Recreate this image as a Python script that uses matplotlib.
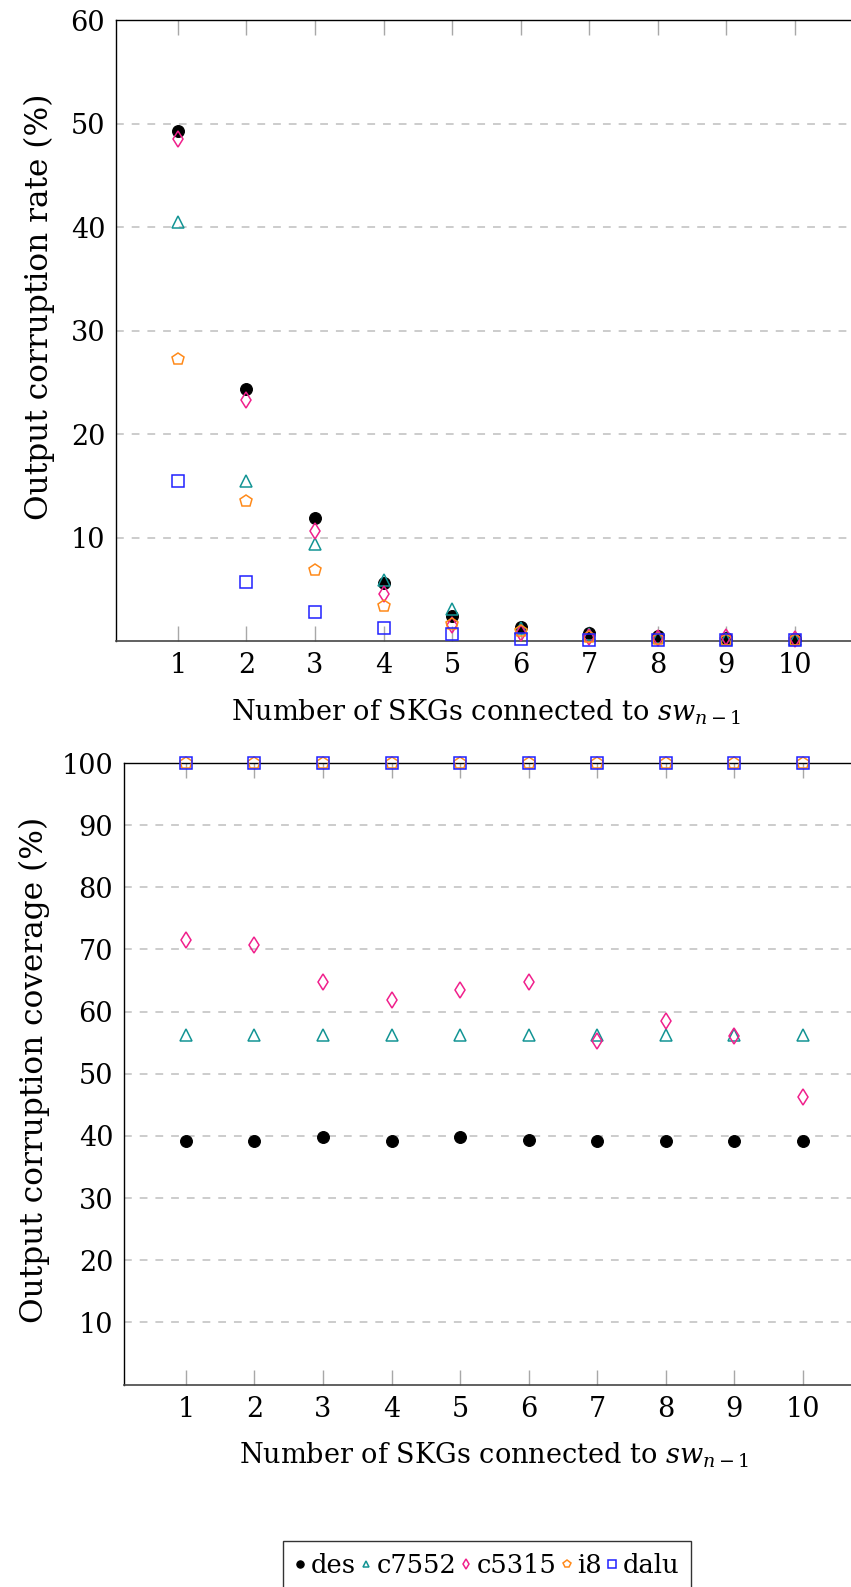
import matplotlib
matplotlib.use("Agg")
import matplotlib.pyplot as plt
from matplotlib.lines import Line2D

# ---------------- data ----------------
x_vals = [1, 2, 3, 4, 5, 6, 7, 8, 9, 10]
series_names = ["des", "c7552", "c5315", "i8", "dalu"]

des_rate = [49.3, 24.4, 11.9, 5.6, 2.4, 1.4, 0.8, 0.5, 0.3, 0.2]
c7552_rate = [40.5, 15.5, 9.4, 5.9, 3.1, 1.3, 0.7, 0.4, 0.2, 0.2]
c5315_rate = [48.5, 23.3, 10.7, 4.6, 1.6, 0.8, 0.4, 0.3, 0.4, 0.2]
i8_rate = [27.3, 13.6, 6.9, 3.4, 1.7, 1.0, 0.4, 0.2, 0.1, 0.1]
dalu_rate = [15.5, 5.7, 2.8, 1.3, 0.7, 0.2, 0.1, 0.1, 0.1, 0.1]

des_cov = [39.2, 39.2, 39.8, 39.2, 39.8, 39.4, 39.2, 39.2, 39.2, 39.2]
c7552_cov = [56.2, 56.2, 56.2, 56.2, 56.2, 56.2, 56.2, 56.2, 56.2, 56.2]
c5315_cov = [71.5, 70.7, 64.8, 61.9, 63.4, 64.8, 55.2, 58.5, 56.1, 46.2]
i8_cov = [100, 100, 100, 100, 100, 100, 100, 100, 100, 100]
dalu_cov = [100, 100, 100, 100, 100, 100, 100, 100, 100, 100]

top_yticks = [10, 20, 30, 40, 50, 60]
bot_yticks = [10, 20, 30, 40, 50, 60, 70, 80, 90, 100]
xlabel_text = r"Number of SKGs connected to $sw_{n-1}$"
top_ylabel = "Output corruption rate (%)"
bot_ylabel = "Output corruption coverage (%)"

# ---------------- style ----------------
plt.rcParams["font.family"] = ["DejaVu Serif"]
plt.rcParams["mathtext.fontset"] = "dejavuserif"
FS = 19.5
FS_Y = 22.5
FS_LEG = 18.5

styles = {
    "des": dict(marker="o", color="black", mfc="black", mec="black", ms=8.5, mew=0.8),
    "c7552": dict(marker="^", color="#139494", mfc="none", mec="#139494", ms=8, mew=1.1),
    "c5315": dict(marker="d", color="#f0208c", mfc="none", mec="#f0208c", ms=8.5, mew=1.1),
    "i8": dict(marker="p", color="#ff8a1a", mfc="none", mec="#ff8a1a", ms=9, mew=1.1),
    "dalu": dict(marker="s", color="#2020ff", mfc="none", mec="#2020ff", ms=8.5, mew=1.1),
}

W, H = 851, 1587
fig = plt.figure(figsize=(W / 100, H / 100), dpi=100)


def px_axes(left, top, right, bottom):
    return [left / W, 1 - bottom / H, (right - left) / W, (bottom - top) / H]


ax1 = fig.add_axes(px_axes(116.3, 20.3, 856.3, 641.3))
ax2 = fig.add_axes(px_axes(124.3, 763.0, 864.3, 1384.5))

top_data = [des_rate, c7552_rate, c5315_rate, i8_rate, dalu_rate]
bot_data = [des_cov, c7552_cov, c5315_cov, i8_cov, dalu_cov]


def setup(ax, ymax, yticks, ylabel):
    ax.set_xlim(0.1, 10.9)
    ax.set_ylim(0, ymax)
    ax.set_xticks(x_vals)
    ax.set_xticklabels([str(v) for v in x_vals], fontsize=FS)
    ax.set_yticks(yticks)
    ax.set_yticklabels([str(v) for v in yticks], fontsize=FS)
    ax.tick_params(axis="x", direction="in", length=11, width=1.0, color="#a8a8a8",
                   top=True, bottom=True, pad=8, labelcolor="black")
    ax.tick_params(axis="y", direction="in", length=0, pad=8, labelcolor="black")
    for gy in yticks:
        if gy < ymax:
            ax.axhline(gy, color="#c8c8c8", lw=1.3, dashes=(4.3, 4.4), zorder=0.5)
    for s in ["left", "top"]:
        ax.spines[s].set_color("black")
        ax.spines[s].set_linewidth(1.0)
    ax.spines["bottom"].set_color("#454545")
    ax.spines["bottom"].set_linewidth(1.2)
    ax.spines["right"].set_visible(False)
    ax.set_xlabel(xlabel_text, fontsize=FS, labelpad=13)
    ax.set_ylabel(ylabel, fontsize=FS_Y)


setup(ax1, 60, top_yticks, top_ylabel)
setup(ax2, 100, bot_yticks, bot_ylabel)

for name, vals in zip(series_names, top_data):
    st = styles[name]
    ax1.plot(x_vals, vals, linestyle="none", zorder=3, clip_on=False, **st)
for name, vals in zip(series_names, bot_data):
    st = styles[name]
    ax2.plot(x_vals, vals, linestyle="none", zorder=3, clip_on=False, **st)

ax1.yaxis.set_label_coords(-0.083, 0.538)
ax2.yaxis.set_label_coords(-0.101, 0.506)

handles = []
for name in series_names:
    st = dict(styles[name])
    st["ms"] = st["ms"] * 0.62
    handles.append(Line2D([], [], linestyle="none", **st))

leg = fig.legend(handles, series_names, loc="upper center",
                 bbox_to_anchor=(487 / W, 1 - 1541 / H), ncol=5, fontsize=FS_LEG,
                 frameon=True, fancybox=False, edgecolor="black",
                 handlelength=0.45, handletextpad=0.2, columnspacing=0.15,
                 borderpad=0.45, borderaxespad=0, numpoints=1)
leg.get_frame().set_linewidth(1.0)

fig.savefig("out.png", dpi=100)
